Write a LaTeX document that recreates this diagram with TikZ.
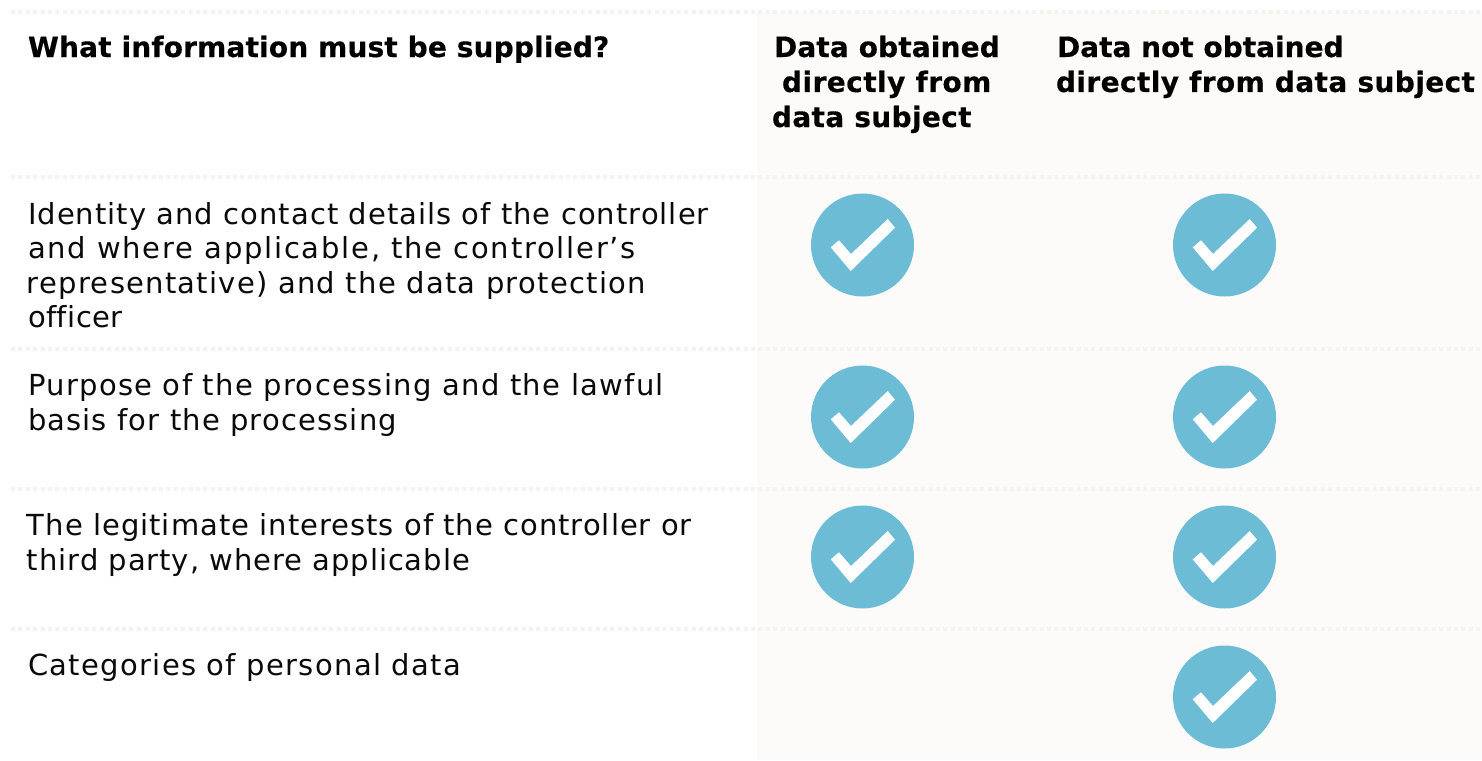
\documentclass[tikz,border=0pt]{standalone}
\usepackage{fontspec}
\setmainfont{DejaVu Sans}[Ligatures=NoCommon]
\definecolor{panel}{HTML}{FCFBF9}
\definecolor{rulec}{HTML}{F5F3EF}
\definecolor{tick}{HTML}{6DBCD6}
\definecolor{ink}{HTML}{0A0A0A}
\tikzset{
 x=1pt,y=-1pt,
 bodytext/.style={anchor=base west,inner sep=0pt,outer sep=0pt,text=ink,font=\addfontfeature{LetterSpace=#1}\fontsize{29}{34}\selectfont},
 headtext/.style={anchor=base west,inner sep=0pt,outer sep=0pt,text=black,font=\bfseries\addfontfeature{LetterSpace=#1,FakeBold=0.35}\fontsize{28}{34}\selectfont},
 rowrule/.style={draw=rulec,line width=4pt,dash pattern=on 4pt off 3.4pt},
 tickdisc/.style={circle,fill=tick,draw=none,minimum size=103pt,inner sep=0pt},
 tickmark/.style={fill=white,draw=none},
}
\newcommand{\tickat}[2]{%
 \node[tickdisc] (#1) at (#2) {};
 \fill[tickmark] ([shift={(-31.8,2.3)}]#1.center) -- ([shift={(-23.5,-4.7)}]#1.center) -- ([shift={(-11.5,9)}]#1.center) -- ([shift={(25.2,-26)}]#1.center) -- ([shift={(32.5,-17.3)}]#1.center) -- ([shift={(-11.8,26)}]#1.center) -- cycle;
}
\begin{document}
\begin{tikzpicture}
\useasboundingbox (0,0) rectangle (1482,760);
\fill[white] (0,0) rectangle (1482,760);
\fill[panel] (757,12) rectangle (1482,760);
\foreach \yy in {12,177,349,489,629}
  \draw[rowrule] (11,\yy) -- (1482,\yy);
\node[headtext=0.6] (h1) at (28,57) {What information must be supplied?};
\node[headtext=0.5] (h2a) at (774,57) {Data obtained};
\node[headtext=1.6] (h2b) at (782,92) {directly from};
\node[headtext=1.2] (h2c) at (772,127) {data subject};
\node[headtext=0] (h3a) at (1057,57) {Data not obtained};
\node[headtext=1.4] (h3b) at (1056,92) {directly from data subject};
\node[bodytext=3.6] (r1a) at (28,224) {Identity and contact details of the controller};
\node[bodytext=6.2] (r1b) at (28,258) {and where applicable, the controller’s};
\node[bodytext=4.4] (r1c) at (27,293) {representative) and the data protection};
\node[bodytext=1.7] (r1d) at (28,327) {officer};
\node[bodytext=4.6] (r2a) at (28,395) {Purpose of the processing and the lawful};
\node[bodytext=4] (r2b) at (28,430) {basis for the processing};
\node[bodytext=3.5] (r3a) at (27,535) {The legitimate interests of the controller or};
\node[bodytext=3.3] (r3b) at (27,570) {third party, where applicable};
\node[bodytext=4.6] (r4a) at (28,675) {Categories of personal data};
\tickat{t1a}{862.5,245}
\tickat{t1b}{1224.5,245}
\tickat{t2a}{862.5,417}
\tickat{t2b}{1224.5,417}
\tickat{t3a}{862.5,557}
\tickat{t3b}{1224.5,557}
\tickat{t4b}{1224.5,697}
\end{tikzpicture}
\end{document}
